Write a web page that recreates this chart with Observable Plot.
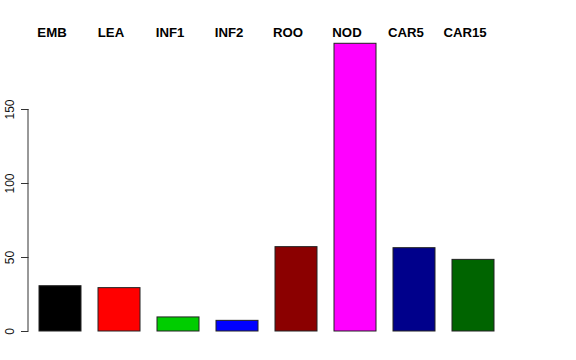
<!DOCTYPE html>
<html>
<head>
<meta charset="utf-8">
<script src="https://cdn.jsdelivr.net/npm/d3@7"></script>
<script src="https://cdn.jsdelivr.net/npm/@observablehq/plot@0.6"></script>
<style>
  html, body { margin: 0; padding: 0; background: #fff; }
  #chart { width: 576px; height: 360px; }
</style>
</head>
<body>
<div id="chart"></div>
<script>
const categories = ["EMB", "LEA", "INF1", "INF2", "ROO", "NOD", "CAR5", "CAR15"];
const values = [30.6, 29.3, 9.5, 7.2, 57.0, 194.4, 56.3, 48.4];
const colors = ["#000000", "#FF0000", "#00CD00", "#0000FF", "#8B0000", "#FF00FF", "#00008B", "#006400"];
const yTicks = [0, 50, 100, 150];

const data = categories.map((c, i) => ({category: c, value: values[i], color: colors[i]}));

const font = "'Liberation Sans', Arial, Helvetica, sans-serif";

// vertical axis line from 0 to 150, drawn through the y scale
function axisLine(index, scales, values, dims) {
  const g = d3.create("svg:g");
  const x = dims.marginLeft - 0.5;
  g.append("line")
    .attr("x1", x).attr("x2", x)
    .attr("y1", scales.y(yTicks[0])).attr("y2", scales.y(yTicks[yTicks.length - 1]))
    .attr("stroke", "#333").attr("stroke-width", 1);
  return g.node();
}

const chart = Plot.plot({
  width: 576,
  height: 360,
  marginLeft: 28.5,
  marginRight: 71.5,
  marginTop: 35,
  marginBottom: 29,
  style: {fontFamily: font, fontSize: "12px", background: "#fff", color: "#000"},
  x: {domain: categories, paddingInner: 0.2916, paddingOuter: 0.16, axis: null},
  y: {domain: [0, 200], axis: null},
  marks: [
    Plot.barY(data, {x: "category", y: "value", fill: "color", stroke: "#222", strokeWidth: 1}),
    Plot.axisY(yTicks, {
      ticks: yTicks, tickSize: 7.5, tickFormat: () => "", label: null, stroke: "#333"
    }),
    axisLine,
    Plot.text(yTicks, {
      y: d => d, text: d => String(d), frameAnchor: "left", rotate: -90,
      dx: -19, lineAnchor: "middle", textAnchor: "middle", fontSize: 12, fill: "#111"
    }),
    Plot.text(data, {
      x: "category", text: "category", frameAnchor: "top", dx: -8.5, dy: -2.4,
      lineAnchor: "middle", textAnchor: "middle", fontSize: 13.2, fontWeight: "bold", fill: "#000"
    })
  ]
});

document.getElementById("chart").appendChild(chart);
</script>
</body>
</html>
